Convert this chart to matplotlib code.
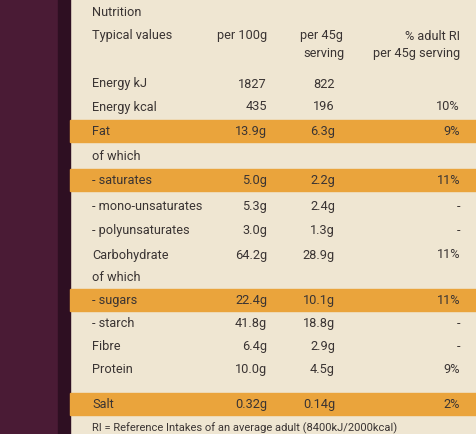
import matplotlib
matplotlib.use("Agg")
import matplotlib.pyplot as plt
from matplotlib.patches import Rectangle

nutrients = ["Energy kJ", "Energy kcal", "Fat", "of which", "- saturates", "- mono-unsaturates",
             "- polyunsaturates", "Carbohydrate", "of which", "- sugars", "- starch", "Fibre",
             "Protein", "Salt"]
per100 = ["1827", "435", "13.9g", "", "5.0g", "5.3g", "3.0g", "64.2g", "", "22.4g", "41.8g", "6.4g", "10.0g", "0.32g"]
per45 = ["822", "196", "6.3g", "", "2.2g", "2.4g", "1.3g", "28.9g", "", "10.1g", "18.8g", "2.9g", "4.5g", "0.14g"]
ri = ["", "10%", "9%", "", "11%", "-", "-", "11%", "", "11%", "-", "-", "9%", "2%"]
highlight = [False, False, True, False, True, False, False, False, False, True, False, False, False, True]
row_y = [84, 107, 132, 157, 181, 207, 231, 255, 278, 301, 324, 347, 370, 405]

W, H = 477, 435
fig = plt.figure(figsize=(W/100, H/100), dpi=100)
ax = fig.add_axes([0, 0, 1, 1])
ax.set_xlim(0, W); ax.set_ylim(H, 0); ax.axis("off")
fig.patch.set_facecolor("#efe6d2")
ax.add_patch(Rectangle((0, 0), W, H, color="#efe6d2", zorder=0))
ax.add_patch(Rectangle((0, 0), 62, H, color="#4a1b35", zorder=1))
ax.add_patch(Rectangle((58, 0), 12, H, color="#2e0f22", zorder=1))

tc = "#3a3433"
hdr = dict(fontsize=9.2, color=tc, va="center", family="Roboto", fontstretch="condensed")
ax.text(92, 12, "Nutrition", **hdr)
ax.text(267, 36, "per 100g", ha="right", **hdr)
ax.text(300, 36, "per 45g", ha="left", **hdr)
ax.text(345, 54, "serving", ha="right", **hdr)
ax.text(92, 36, "Typical values", **hdr)
ax.text(460, 36, "% adult RI", ha="right", **hdr)
ax.text(460, 54, "per 45g serving", ha="right", **hdr)

for name, a, b, c, h, y in zip(nutrients, per100, per45, ri, highlight, row_y):
    if h:
        ax.add_patch(Rectangle((70, y - 11), W - 70, 22, color="#eaa43c", zorder=2))
    ax.text(92, y, name, zorder=3, **hdr)
    ax.text(267, y, a, ha="right", zorder=3, **hdr)
    ax.text(335, y, b, ha="right", zorder=3, **hdr)
    ax.text(460, y, c, ha="right", zorder=3, **hdr)

foot = dict(hdr); foot["fontsize"] = 8
ax.text(92, 428, "RI = Reference Intakes of an average adult (8400kJ/2000kcal)", zorder=3, **foot)
fig.savefig("out.png", dpi=100)
